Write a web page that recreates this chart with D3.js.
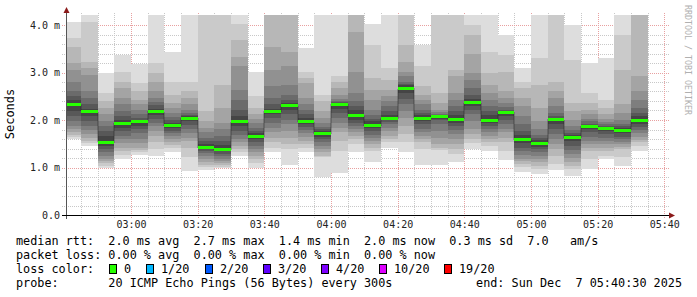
<!DOCTYPE html>
<html>
<head>
<meta charset="utf-8">
<script src="https://cdn.jsdelivr.net/npm/d3@7"></script>
<style>
body { margin: 0; background: #fff; }
text { font-family: "DejaVu Sans Mono", monospace; }
</style>
</head>
<body>
<svg id="chart" width="697" height="297"></svg>
<script>
// 20 pings per 5 minute step, sorted low to high (ms)
var pings = [
[1.60,1.65,1.69,1.74,1.81,1.88,1.98,2.08,2.19,2.31,2.36,2.43,2.50,2.60,2.81,3.06,3.19,3.54,3.72,4.06],
[1.46,1.51,1.56,1.63,1.70,1.78,1.88,1.98,2.08,2.17,2.20,2.24,2.33,2.47,2.60,2.95,3.09,3.23,4.06,4.40],
[0.99,1.04,1.09,1.13,1.18,1.25,1.32,1.39,1.46,1.51,1.56,1.67,1.77,1.88,1.98,2.12,2.26,2.40,2.57,2.99],
[1.17,1.27,1.35,1.42,1.51,1.60,1.67,1.76,1.84,1.91,1.95,2.01,2.08,2.19,2.33,2.47,2.67,2.81,3.02,3.37],
[1.27,1.32,1.37,1.42,1.51,1.60,1.72,1.81,1.88,1.94,1.98,2.01,2.05,2.12,2.22,2.33,2.43,2.60,2.78,3.17],
[1.24,1.39,1.53,1.67,1.77,1.88,1.94,2.03,2.10,2.17,2.20,2.24,2.31,2.38,2.47,2.60,2.81,2.99,3.19,4.30],
[1.32,1.41,1.47,1.53,1.60,1.67,1.72,1.77,1.83,1.87,1.91,1.94,1.99,2.06,2.15,2.26,2.36,2.53,2.81,3.44],
[0.92,1.22,1.42,1.56,1.63,1.72,1.81,1.90,1.97,2.02,2.06,2.08,2.10,2.15,2.22,2.33,2.47,2.60,2.81,4.30],
[0.95,1.01,1.06,1.11,1.18,1.24,1.30,1.35,1.39,1.42,1.46,1.49,1.55,1.63,1.74,1.84,1.98,2.19,4.30,4.50],
[0.99,1.02,1.06,1.09,1.13,1.18,1.24,1.28,1.34,1.38,1.42,1.48,1.56,1.67,1.81,1.94,2.26,2.74,4.30,4.50],
[1.24,1.32,1.39,1.46,1.53,1.60,1.69,1.77,1.88,1.96,2.00,2.08,2.22,2.43,2.64,3.13,3.33,3.68,4.03,4.30],
[0.99,1.09,1.18,1.25,1.32,1.39,1.46,1.53,1.60,1.65,1.69,1.72,1.77,1.84,1.94,2.03,2.12,2.26,2.50,3.02],
[1.32,1.42,1.53,1.63,1.74,1.84,1.94,2.05,2.12,2.17,2.20,2.24,2.33,2.47,2.71,3.06,3.54,4.40,4.50,4.60],
[1.06,1.39,1.49,1.63,1.77,1.91,2.01,2.12,2.22,2.29,2.33,2.36,2.43,2.53,2.74,3.13,3.44,4.40,4.50,4.60],
[1.32,1.42,1.49,1.56,1.65,1.72,1.78,1.85,1.91,1.95,1.99,2.05,2.12,2.22,2.33,2.47,2.78,2.88,3.02,3.51],
[0.80,1.22,1.25,1.32,1.39,1.46,1.53,1.59,1.65,1.70,1.74,1.77,1.81,1.85,1.94,2.05,2.19,2.40,2.53,4.30],
[0.88,1.35,1.56,1.74,1.84,1.94,2.05,2.15,2.24,2.31,2.34,2.35,2.37,2.40,2.45,2.53,2.67,2.81,2.92,4.30],
[1.32,1.49,1.60,1.67,1.74,1.81,1.88,1.94,2.01,2.08,2.13,2.20,2.29,2.40,2.57,3.02,3.85,4.40,4.50,4.60],
[1.11,1.35,1.42,1.49,1.56,1.63,1.69,1.76,1.83,1.88,1.92,1.97,2.03,2.10,2.22,2.43,2.64,2.88,3.58,4.03],
[1.42,1.53,1.60,1.67,1.77,1.84,1.91,1.96,1.99,2.03,2.06,2.10,2.19,2.29,2.40,2.50,2.64,2.85,3.09,4.30],
[1.32,1.53,1.70,1.88,2.05,2.19,2.33,2.45,2.57,2.66,2.70,2.73,2.76,2.81,2.92,3.02,3.23,3.58,4.25,4.40],
[1.06,1.39,1.53,1.60,1.67,1.74,1.81,1.91,1.98,2.03,2.06,2.10,2.15,2.22,2.33,2.43,2.53,2.71,3.13,3.58],
[1.06,1.37,1.42,1.49,1.63,1.77,1.91,1.99,2.03,2.06,2.08,2.10,2.11,2.13,2.17,2.22,2.36,2.57,4.25,4.40],
[1.11,1.28,1.39,1.49,1.60,1.70,1.78,1.88,1.94,2.00,2.05,2.10,2.19,2.29,2.43,2.57,2.92,3.06,4.25,4.40],
[1.40,1.51,1.60,1.70,1.81,1.98,2.12,2.22,2.29,2.35,2.40,2.45,2.53,2.67,2.85,2.99,3.40,3.78,3.99,4.30],
[1.35,1.46,1.53,1.60,1.67,1.74,1.81,1.88,1.94,1.99,2.03,2.10,2.19,2.29,2.43,2.57,2.74,2.99,3.44,4.30],
[1.15,1.35,1.53,1.63,1.74,1.81,1.91,2.01,2.08,2.15,2.17,2.19,2.22,2.28,2.36,2.47,2.60,3.02,3.37,3.78],
[0.90,1.01,1.08,1.13,1.18,1.27,1.35,1.42,1.51,1.58,1.63,1.69,1.77,1.91,2.08,2.29,2.47,2.67,2.81,3.09],
[0.87,0.97,1.04,1.11,1.18,1.25,1.32,1.39,1.44,1.49,1.54,1.58,1.62,1.69,1.81,1.98,2.26,2.74,3.30,4.30],
[0.95,1.08,1.25,1.39,1.49,1.60,1.70,1.81,1.91,2.01,2.03,2.05,2.08,2.15,2.29,2.47,2.60,2.81,4.25,4.40],
[0.82,0.97,1.04,1.11,1.20,1.28,1.37,1.46,1.55,1.63,1.66,1.69,1.73,1.78,1.88,2.01,2.19,2.36,3.26,3.99],
[0.97,1.18,1.35,1.42,1.49,1.56,1.65,1.74,1.81,1.85,1.88,1.90,1.92,1.97,2.03,2.12,2.22,2.36,2.57,3.19],
[1.18,1.25,1.35,1.42,1.49,1.56,1.63,1.70,1.77,1.82,1.84,1.85,1.88,1.91,1.96,2.03,2.12,2.26,2.43,3.30],
[1.03,1.22,1.39,1.44,1.49,1.54,1.60,1.65,1.72,1.77,1.81,1.83,1.87,1.92,2.01,2.15,2.33,3.06,3.78,4.30],
[1.35,1.46,1.53,1.58,1.65,1.72,1.78,1.85,1.92,1.99,2.03,2.08,2.15,2.26,2.43,2.60,2.92,4.40,4.50,4.60]
];

var medians = [2.34,2.19,1.53,1.93,1.97,2.19,1.89,2.04,1.44,1.40,1.98,1.67,2.19,2.31,1.97,1.72,2.33,2.10,1.90,2.05,
               2.68,2.05,2.08,2.02,2.38,2.01,2.16,1.60,1.51,2.03,1.65,1.87,1.83,1.79,2.01];

var yTicks = [0, 1, 2, 3, 4];
var yTickLabels = ["0.0", "1.0 m", "2.0 m", "3.0 m", "4.0 m"];
var xTickLabels = ["03:00", "03:20", "03:40", "04:00", "04:20", "04:40", "05:00", "05:20", "05:40"];

var rttValues = ["2.0", "2.7", "1.4", "2.0", "0.3"];
var rttNames = ["avg", "max", "min", "now", "sd"];
var lossValues = ["0.00", "0.00", "0.00", "0.00"];
var lossNames = ["avg", "max", "min", "now"];
var lossLabels = ["0", "1/20", "2/20", "3/20", "4/20", "10/20", "19/20"];
var lossColors = ["#26ff00", "#00b8ff", "#0059ff", "#5e00ff", "#7e00ff", "#dd00ff", "#ff0000"];

var svg = d3.select("#chart");

var start = new Date(2025, 11, 7, 2, 40, 30);
var end = new Date(2025, 11, 7, 5, 40, 30);
var firstStep = new Date(2025, 11, 7, 2, 40, 0);

var x = d3.scaleTime().domain([start, end]).range([66, 666]);
var y = d3.scaleLinear().domain([0, 200 / 47.5]).range([215, 15]);

function stepTime(k) {
    return d3.timeMinute.offset(firstStep, 5 * k);
}

// grid
var grid = svg.append("g");
var minorY = d3.range(1, 21).filter(function(i) { return i % 5 != 0; }).map(function(i) { return i / 5; });
grid.selectAll(".hminor").data(minorY).enter().append("line")
    .attr("x1", 62).attr("x2", 670)
    .attr("y1", function(d) { return Math.round(y(d)) + 0.5; })
    .attr("y2", function(d) { return Math.round(y(d)) + 0.5; })
    .attr("stroke", "#c8c8c8").attr("stroke-dasharray", "1,1");

var minorX = d3.timeMinute.every(5).range(start, end).filter(function(t) { return t.getMinutes() % 20 != 0; });
grid.selectAll(".vminor").data(minorX).enter().append("line")
    .attr("y1", 13).attr("y2", 219)
    .attr("x1", function(d) { return Math.round(x(d)) + 0.5; })
    .attr("x2", function(d) { return Math.round(x(d)) + 0.5; })
    .attr("stroke", "#c8c8c8").attr("stroke-dasharray", "1,1");

var majorX = d3.timeMinute.every(20).range(start, end);
grid.selectAll(".vmajor").data(majorX).enter().append("line")
    .attr("y1", 13).attr("y2", 219)
    .attr("x1", function(d) { return Math.round(x(d)) + 0.5; })
    .attr("x2", function(d) { return Math.round(x(d)) + 0.5; })
    .attr("stroke", "#e8a0a0").attr("stroke-dasharray", "1,1");

grid.selectAll(".hmajor").data(yTicks.slice(1)).enter().append("line")
    .attr("x1", 62).attr("x2", 670)
    .attr("y1", function(d) { return Math.round(y(d)) + 0.5; })
    .attr("y2", function(d) { return Math.round(y(d)) + 0.5; })
    .attr("stroke", "#e8a0a0").attr("stroke-dasharray", "1,1");

// smoke
svg.append("clipPath").attr("id", "plotclip")
    .append("rect").attr("x", 66).attr("y", 15).attr("width", 600).attr("height", 200);

var smoke = svg.append("g").attr("clip-path", "url(#plotclip)").attr("shape-rendering", "crispEdges");
var half = 10;
for (let k = 0; k < pings.length; k++) {
    var x0 = Math.round(x(stepTime(k)));
    var x1 = Math.round(x(stepTime(k + 1)));
    for (let i = 1; i <= half; i++) {
        var g = Math.floor(190 / half * (half - i)) + 50;
        var lo = pings[k][i - 1];
        var hi = pings[k][pings[k].length - i];
        smoke.append("rect")
            .attr("x", x0).attr("width", x1 - x0)
            .attr("y", Math.round(y(hi))).attr("height", Math.round(y(lo)) - Math.round(y(hi)))
            .attr("fill", d3.rgb(g, g, g));
    }
}

// median step line
var stepPts = [];
for (let k = 0; k < medians.length; k++) {
    stepPts.push([Math.max(66, Math.round(x(stepTime(k)))), Math.round(y(medians[k])) + 0.5]);
}
stepPts.push([Math.round(x(stepTime(medians.length))), Math.round(y(medians[medians.length - 1])) + 0.5]);
svg.append("path")
    .attr("d", d3.line().curve(d3.curveStepAfter)(stepPts))
    .attr("fill", "none").attr("stroke", "#202020").attr("stroke-width", 1)
    .attr("stroke-dasharray", "1,1");

// median with loss colour
svg.append("g").selectAll("line").data(medians).enter().append("line")
    .attr("x1", function(d, k) { return Math.max(66, Math.round(x(stepTime(k)))); })
    .attr("x2", function(d, k) { return Math.round(x(stepTime(k + 1))); })
    .attr("y1", function(d) { return Math.round(y(d)) + 0.5; })
    .attr("y2", function(d) { return Math.round(y(d)) + 0.5; })
    .attr("stroke", lossColors[0]).attr("stroke-width", 3);

// axes
var yAxis = d3.axisLeft(y).tickValues(yTicks).tickSize(0).tickPadding(6)
    .tickFormat(function(d, i) { return yTickLabels[i]; });
var gy = svg.append("g").attr("transform", "translate(66,0)").call(yAxis);
gy.select(".domain").remove();
gy.selectAll("text").style("font-family", '"DejaVu Sans Mono", monospace').style("font-size", "10px").attr("fill", "#222");

var xTickTimes = xTickLabels.map(function(s) {
    var p = s.split(":");
    return new Date(2025, 11, 7, +p[0], +p[1], 0);
});
var xAxis = d3.axisBottom(x).tickValues(xTickTimes).tickSize(0).tickPadding(6)
    .tickFormat(function(d, i) { return xTickLabels[i]; });
var gx = svg.append("g").attr("transform", "translate(0,215)").call(xAxis);
gx.select(".domain").remove();
gx.selectAll("text").style("font-family", '"DejaVu Sans Mono", monospace').style("font-size", "10px").attr("fill", "#222");

svg.append("line").attr("x1", 66.5).attr("x2", 66.5).attr("y1", 219).attr("y2", 11)
    .attr("stroke", "#555");
svg.append("line").attr("x1", 62).attr("x2", 670).attr("y1", 215.5).attr("y2", 215.5)
    .attr("stroke", "#000");
svg.append("path").attr("d", "M63.5,13L69.5,13L66.5,7Z").attr("fill", "#8b1a1a");
svg.append("path").attr("d", "M669,212.5L669,218.5L675,215.5Z").attr("fill", "#8b1a1a");

svg.append("text")
    .attr("transform", "translate(14,114) rotate(-90)")
    .attr("text-anchor", "middle")
    .style("font-size", "12px")
    .text("Seconds");

svg.append("text")
    .attr("transform", "translate(685,5) rotate(90)")
    .style("font-size", "8.3px")
    .attr("fill", "#b0b0b0")
    .text("RRDTOOL / TOBI OETIKER");

// legend
var legend = svg.append("g").style("font-size", "11.8px").attr("fill", "#000");
var line1 = "median rtt:  " + rttValues.map(function(v, i) { return v + " ms " + rttNames[i]; }).join("  ") + "  7.0   am/s";
var line2 = "packet loss: " + lossValues.map(function(v, i) { return v + " % " + lossNames[i]; }).join("  ");
[line1, line2, "loss color:", "probe:       20 ICMP Echo Pings (56 Bytes) every 300s"].forEach(function(s, i) {
    legend.append("text").attr("x", 16).attr("y", 245 + i * 14)
        .attr("xml:space", "preserve").style("white-space", "pre").text(s);
});
legend.append("text").attr("x", 682).attr("y", 287).attr("text-anchor", "end")
    .attr("xml:space", "preserve").style("white-space", "pre").text("end: Sun Dec  7 05:40:30 2025");

var boxX = [109, 146, 205, 263, 321, 379, 444];
lossLabels.forEach(function(lab, i) {
    legend.append("rect").attr("x", boxX[i] + 0.5).attr("y", 264.5).attr("width", 7).attr("height", 9)
        .attr("fill", lossColors[i]).attr("stroke", "#000");
    legend.append("text").attr("x", boxX[i] + 15).attr("y", 273).text(lab);
});
</script>
</body>
</html>
